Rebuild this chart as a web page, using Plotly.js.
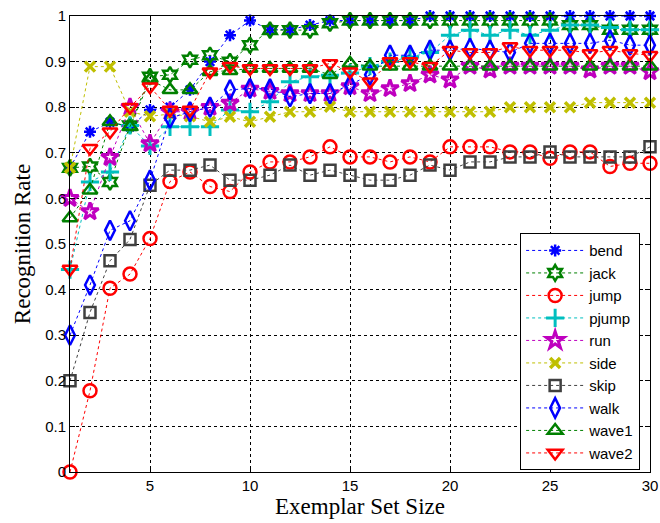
<!DOCTYPE html>
<html>
<head>
<meta charset="utf-8">
<script src="https://cdn.plot.ly/plotly-3.0.1.min.js"></script>
<style>html,body{margin:0;padding:0;background:#fff;}#chart{width:660px;height:523px;}</style>
</head>
<body>
<div id="chart"></div>
<script>
const sizes = [1,2,3,4,5,6,7,8,9,10,11,12,13,14,15,16,17,18,19,20,21,22,23,24,25,26,27,28,29,30];
const seriesNames = ['bend','jack','jump','pjump','run','side','skip','walk','wave1','wave2'];
const bend  = [0.667,0.746,0.767,0.757,0.794,0.80,0.838,0.90,0.958,0.99,0.97,0.97,0.98,0.99,0.99,0.99,0.99,0.99,1.0,1.0,1.0,1.0,1.0,1.0,1.0,1.0,1.0,1.0,1.0,1.0];
const jack  = [0.667,0.67,0.636,0.76,0.867,0.871,0.904,0.914,0.90,0.936,0.969,0.969,0.969,0.984,0.99,0.99,0.99,0.99,0.99,0.99,0.99,0.99,0.99,0.99,0.99,0.98,0.98,0.97,0.97,0.97];
const jump  = [0.0,0.178,0.403,0.434,0.512,0.637,0.658,0.626,0.615,0.658,0.68,0.68,0.691,0.713,0.691,0.691,0.68,0.691,0.68,0.713,0.713,0.713,0.702,0.702,0.688,0.702,0.702,0.67,0.677,0.677];
const pjump = [0.444,0.636,0.658,0.76,0.715,0.757,0.757,0.757,0.794,0.79,0.812,0.856,0.867,0.87,0.875,0.89,0.90,0.91,0.92,0.958,0.969,0.958,0.969,0.958,0.969,0.98,0.98,0.975,0.97,0.97];
const run   = [0.60,0.571,0.69,0.80,0.72,0.79,0.79,0.80,0.809,0.84,0.835,0.83,0.83,0.83,0.845,0.83,0.841,0.852,0.871,0.86,0.89,0.882,0.89,0.89,0.89,0.89,0.882,0.89,0.89,0.878];
const side  = [0.667,0.889,0.889,0.79,0.78,0.785,0.78,0.768,0.779,0.768,0.779,0.79,0.79,0.801,0.79,0.79,0.79,0.79,0.79,0.79,0.79,0.79,0.80,0.80,0.80,0.80,0.81,0.81,0.81,0.81];
const skip  = [0.20,0.35,0.463,0.51,0.629,0.662,0.662,0.673,0.64,0.64,0.651,0.673,0.651,0.662,0.651,0.64,0.64,0.651,0.673,0.662,0.68,0.68,0.691,0.691,0.702,0.691,0.691,0.691,0.691,0.713];
const walk  = [0.30,0.41,0.53,0.551,0.64,0.776,0.79,0.80,0.838,0.841,0.84,0.823,0.83,0.83,0.849,0.871,0.914,0.914,0.925,0.925,0.929,0.925,0.92,0.94,0.94,0.94,0.94,0.947,0.936,0.936];
const wave1 = [0.557,0.618,0.768,0.757,0.86,0.838,0.838,0.878,0.88,0.885,0.885,0.885,0.885,0.871,0.896,0.89,0.89,0.89,0.89,0.89,0.89,0.89,0.89,0.89,0.89,0.89,0.89,0.89,0.89,0.89];
const wave2 = [0.445,0.71,0.746,0.80,0.845,0.794,0.794,0.878,0.89,0.885,0.885,0.885,0.885,0.896,0.878,0.856,0.90,0.90,0.89,0.925,0.92,0.92,0.933,0.925,0.925,0.925,0.918,0.925,0.918,0.914];
const yTicks = [0,0.1,0.2,0.3,0.4,0.5,0.6,0.7,0.8,0.9,1];
const yTickText = ['0','0.1','0.2','0.3','0.4','0.5','0.6','0.7','0.8','0.9','1'];
const xTicks = [5,10,15,20,25,30];

const values = [bend,jack,jump,pjump,run,side,skip,walk,wave1,wave2];
const styles = [
  {c:'#0000ff', s:'asterisk-open', z:10, w:2.5},
  {c:'#008000', s:'hexagram-open', z:12, w:2.5},
  {c:'#ff0000', s:'circle-open', z:13, w:2.5},
  {c:'#00bfbf', s:'cross-thin-open', z:13, w:3},
  {c:'#bf00bf', s:'star-open', z:13, w:3},
  {c:'#bfbf00', s:'x-thin-open', z:10, w:3.5},
  {c:'#404040', s:'square-open', z:11, w:2.5},
  {c:'#0000ff', s:'diamond-tall-open', z:14, w:2.5},
  {c:'#008000', s:'triangle-up-open', z:13, w:2.5},
  {c:'#ff0000', s:'triangle-down-open', z:13, w:2.5}
];
const data = seriesNames.map((n,i)=>({
  x: sizes, y: values[i], name: n, type:'scatter', mode:'lines+markers',
  cliponaxis:false,
  line:{color:styles[i].c, width:1, dash:'dot'},
  marker:{symbol:styles[i].s, size:styles[i].z, color:styles[i].c, line:{color:styles[i].c, width:styles[i].w}}
}));
const axisCommon = {
  showline:true, linecolor:'#000', linewidth:1, mirror:'ticks',
  ticks:'inside', ticklen:5, tickcolor:'#000',
  showgrid:true, gridcolor:'#000', griddash:'dot', gridwidth:1,
  zeroline:false, tickfont:{family:'Liberation Sans, Arial, sans-serif', size:15, color:'#000'}
};
const layout = {
  width:660, height:523,
  margin:{l:70, r:10, t:16, b:51},
  paper_bgcolor:'#fff', plot_bgcolor:'#fff',
  showlegend:true,
  xaxis: Object.assign({}, axisCommon, {range:[1,30], tickvals:xTicks, ticktext:xTicks.map(String),
    title:{text:'Exemplar Set Size', font:{family:'Liberation Serif, Times New Roman, serif', size:23, color:'#000'}, standoff:2}}),
  yaxis: Object.assign({}, axisCommon, {range:[0,1], tickvals:yTicks, ticktext:yTickText,
    title:{text:'Recognition Rate', font:{family:'Liberation Serif, Times New Roman, serif', size:23, color:'#000'}, standoff:8}}),
  legend:{x:0.983, y:0.004, xanchor:'right', yanchor:'bottom', bgcolor:'#fff', bordercolor:'#000', borderwidth:1,
    itemwidth:58,
    font:{family:'Liberation Sans, Arial, sans-serif', size:15, color:'#000'}, tracegroupgap:0}
};
Plotly.newPlot('chart', data, layout, {displayModeBar:false, staticPlot:true});
</script>
</body>
</html>
